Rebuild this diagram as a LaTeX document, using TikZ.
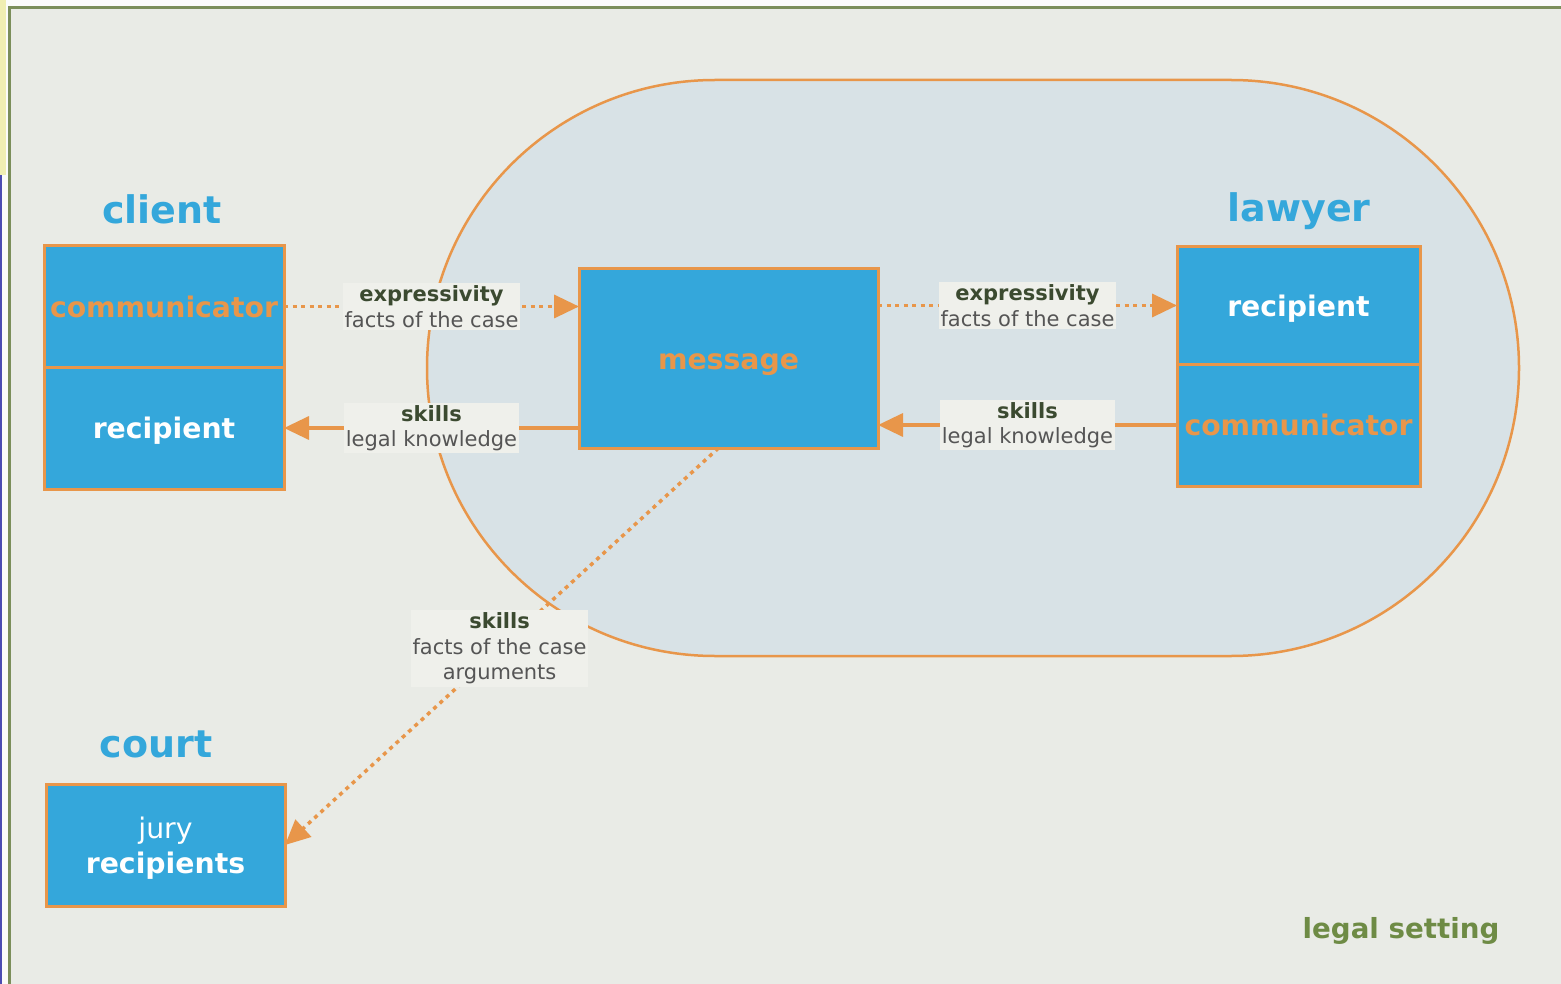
\documentclass[tikz,border=0pt]{standalone}
\usepackage{fontspec}
\setmainfont{DejaVu Sans}
\usetikzlibrary{arrows.meta}
\begin{document}
\begin{tikzpicture}[x=1pt,y=-1pt,
  block/.style={draw=color4,line width=3pt,fill=color5,inner sep=0pt,outer sep=0pt,align=center,text height=21.5pt,text depth=0pt,font=\bfseries\fontsize{28.3}{34}\selectfont},
  party/.style={text=color5,anchor=base,font=\bfseries\fontsize{38}{44}\selectfont},
  lbl/.style={fill=color6,inner xsep=1.5pt,inner ysep=2.5pt,align=center,text=color9,font=\fontsize{21}{25.5}\selectfont},
  solidarrow/.style={draw=color4,line width=3.5pt,-{Triangle[length=25pt,width=23pt]}},
  dotarrow/.style={solidarrow,dash pattern=on 4pt off 4.5pt}]
\definecolor{color1}{HTML}{E9EBE6}
\definecolor{color2}{HTML}{D8E2E6}
\definecolor{color3}{HTML}{7B8E5A}
\definecolor{color4}{HTML}{E8964A}
\definecolor{color5}{HTML}{34A7DB}
\definecolor{color6}{HTML}{EFF0EB}
\definecolor{color7}{HTML}{3B4A30}
\definecolor{color9}{HTML}{555555}
\definecolor{color10}{HTML}{6E8B45}
\useasboundingbox (0,0) rectangle (1561,984);
% background and frame
\fill[color1] (0,0) rectangle (1561,984);
\fill[white!80!color1] (0,0) rectangle (9,984);
\fill[white!80!color1] (0,0) rectangle (1561,6);
\fill[yellow!25!color1] (0,0) rectangle (6,175);
\fill[blue!40!gray] (0,175) rectangle (2,984);
\draw[color3,line width=2.5pt] (9.5,984) -- (9.5,7.5) -- (1561,7.5);
% the meeting of client and lawyer
\draw[color4,line width=2.5pt,fill=color2,rounded corners=288pt] (427,80) rectangle (1519,656);
% parties
\node[party] (client) at (162,224) {client};
\node[party] (lawyer) at (1299,222) {lawyer};
\node[party] (court) at (156,757) {court};
\node[block,text=color4,minimum width=240pt,minimum height=121pt] (clcomm) at (164,306.5) {communicator};
\node[block,text=white,minimum width=240pt,minimum height=122pt] (clrec) at (164,428) {recipient};
\node[block,text=color4,minimum width=299pt,minimum height=179pt] (message) at (728.5,358.5) {message};
\node[block,text=white,minimum width=243pt,minimum height=117pt] (lwrec) at (1298.5,305.5) {recipient};
\node[block,text=color4,minimum width=243pt,minimum height=122pt] (lwcomm) at (1298.5,425) {communicator};
\node[block,text=white,minimum width=239pt,minimum height=122pt,text height=,text depth=0pt] (jury) at (165.5,845) {\mdseries jury\\[1pt]recipients};
% flows
\draw[dotarrow] (clcomm.east) -- node[lbl] (l1) {\textcolor{color7}{\bfseries expressivity}\\facts of the case} (message.west |- clcomm.east);
\draw[solidarrow] (message.west |- clrec.east) -- node[lbl] (l2) {\textcolor{color7}{\bfseries skills}\\legal knowledge} (clrec.east);
\draw[dotarrow] (message.east |- lwrec.west) -- node[lbl] (l3) {\textcolor{color7}{\bfseries expressivity}\\facts of the case} (lwrec.west);
\draw[solidarrow] (lwcomm.west) -- node[lbl] (l4) {\textcolor{color7}{\bfseries skills}\\legal knowledge} (message.east |- lwcomm.west);
\draw[dotarrow] ([xshift=-10pt]message.south) -- node[lbl,pos=0.505] (l5) {\textcolor{color7}{\bfseries skills}\\facts of the case\\arguments} (jury.east);
\node[text=color10,font=\bfseries\fontsize{27.7}{33}\selectfont,anchor=base] (setting) at (1401,938) {legal setting};
\end{tikzpicture}
\end{document}
